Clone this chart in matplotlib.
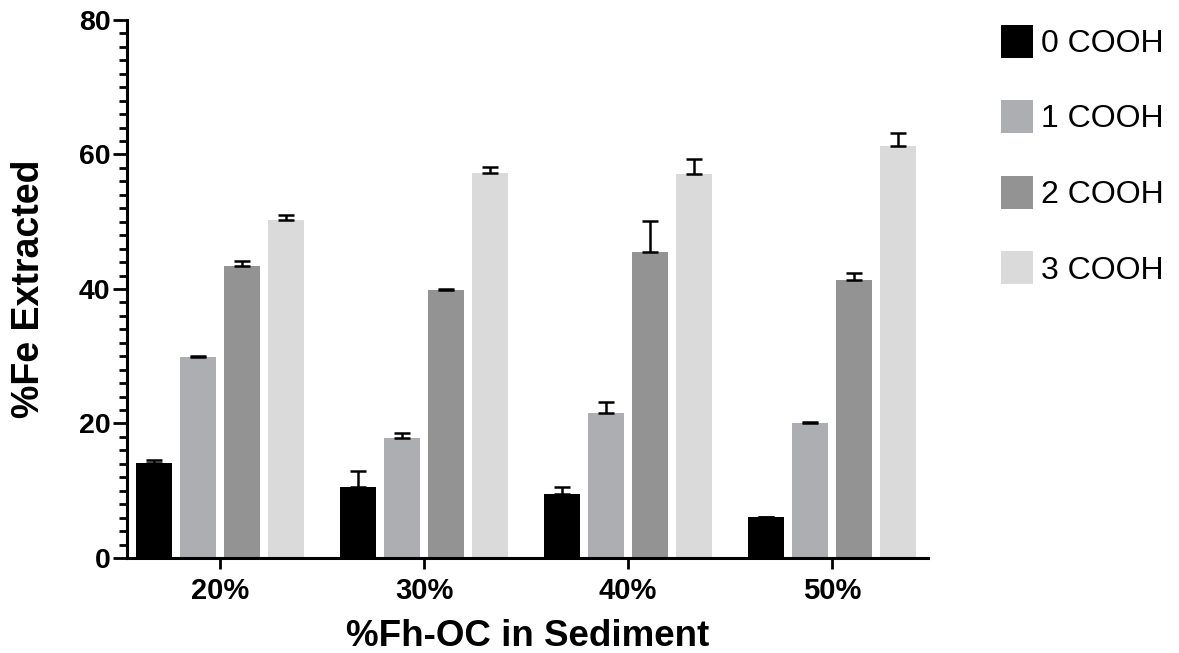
import matplotlib
matplotlib.use("Agg")
import matplotlib.pyplot as plt
import numpy as np
from matplotlib.ticker import MultipleLocator

plt.rcParams['font.family'] = ['Liberation Sans', 'DejaVu Sans']

categories = ["20%", "30%", "40%", "50%"]
series_names = ["0 COOH", "1 COOH", "2 COOH", "3 COOH"]
colors = ["#000000", "#ADAEB1", "#939393", "#DADADA"]

# mean %Fe extracted per group (rows = series, columns = categories)
cooh0 = [14.1, 10.5, 9.5, 6.05]
cooh1 = [29.85, 17.8, 21.5, 20.05]
cooh2 = [43.45, 39.85, 45.45, 41.35]
cooh3 = [50.3, 57.2, 57.15, 61.3]
means = [cooh0, cooh1, cooh2, cooh3]

# upper error (standard deviation)
err0 = [0.5, 2.5, 1.1, 0.1]
err1 = [0.2, 0.75, 1.65, 0.1]
err2 = [0.65, 0.2, 4.65, 1.0]
err3 = [0.7, 1.0, 2.2, 1.9]
errors = [err0, err1, err2, err3]

fig = plt.figure(figsize=(11.79, 6.53), dpi=100)
ax = fig.add_axes([0.1077, 0.1455, 0.6793, 0.8239])

x = np.arange(len(categories))
pitch = 0.2157
width = 0.18
handles = []
for i, (vals, errs) in enumerate(zip(means, errors)):
    pos = x + (i - 1.5) * pitch
    b = ax.bar(pos, vals, width=width, color=colors[i], label=series_names[i],
               linewidth=0, zorder=2)
    ax.errorbar(pos, vals, yerr=[np.zeros(len(errs)), errs], fmt='none',
                ecolor='black', elinewidth=1.8, capsize=6, capthick=1.8, zorder=3)
    handles.append(b)

ax.set_xlim(-0.456, 3.47)
ax.set_ylim(0, 80)
ax.set_xticks(x)
ax.set_xticklabels(categories)
ax.yaxis.set_major_locator(MultipleLocator(20))
ax.yaxis.set_minor_locator(MultipleLocator(2))

for side in ("top", "right"):
    ax.spines[side].set_visible(False)
for side in ("left", "bottom"):
    ax.spines[side].set_linewidth(2.2)

ax.tick_params(axis='y', which='major', length=10, width=2, labelsize=20.5, pad=2)
ax.tick_params(axis='y', which='minor', length=5.5, width=2)
ax.tick_params(axis='x', which='major', length=8, width=2, labelsize=21, pad=6)
for lab in ax.get_xticklabels() + ax.get_yticklabels():
    lab.set_fontweight('bold')

ax.set_ylabel("%Fe Extracted", fontsize=27, fontweight='bold')
ax.set_xlabel("%Fh-OC in Sediment", fontsize=26.5, fontweight='bold')
ax.yaxis.set_label_coords(-0.122, 0.5)
ax.yaxis.label.set_va('center')
ax.xaxis.set_label_coords(0.5, -0.114)

leg = ax.legend(handles=handles, labels=series_names, loc='upper left',
                bbox_to_anchor=(0.8385, 0.982), bbox_transform=fig.transFigure,
                frameon=False, fontsize=23, handlelength=1.0, handleheight=1.22,
                handletextpad=0.25, labelspacing=1.29, borderaxespad=0)

fig.savefig("out.png", dpi=100)
